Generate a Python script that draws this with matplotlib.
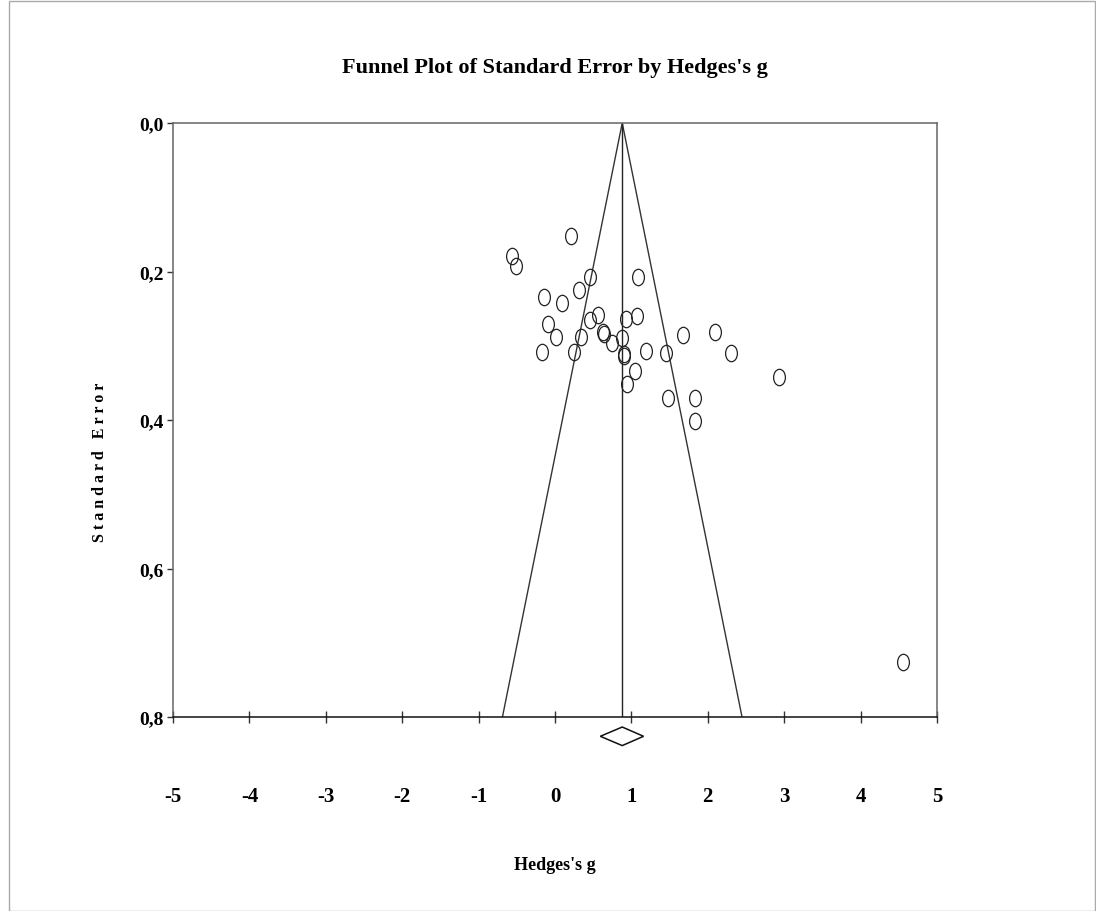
import matplotlib
matplotlib.use("Agg")
import matplotlib.pyplot as plt
import numpy as np
from matplotlib.path import Path
from matplotlib.patches import Polygon, Rectangle
from matplotlib.transforms import Affine2D

# ---- data ----
hedges_g = [0.205, -0.566, -0.514, 0.463, 1.085, 0.314, -0.139, 0.088, 0.567, 0.463,
            0.933, 1.072, -0.095, 0.627, 0.637, 0.009, 0.340, 0.881, 0.750, 1.678,
            2.088, -0.170, 0.244, 0.898, 0.902, 1.186, 1.456, 2.310, 1.046, 2.937,
            0.937, 1.482, 1.830, 1.835, 4.549]
std_err = [0.152, 0.179, 0.192, 0.208, 0.207, 0.225, 0.235, 0.243, 0.259, 0.265,
           0.264, 0.260, 0.271, 0.282, 0.284, 0.288, 0.288, 0.290, 0.296, 0.285,
           0.282, 0.308, 0.309, 0.311, 0.314, 0.307, 0.310, 0.310, 0.334, 0.342,
           0.352, 0.370, 0.370, 0.401, 0.726]
mean_effect = 0.88
ci_low, ci_high = 0.593, 1.159
z_crit = 1.96
x_ticks = [-5, -4, -3, -2, -1, 0, 1, 2, 3, 4, 5]
y_ticks = [0.0, 0.2, 0.4, 0.6, 0.8]
y_tick_labels = ["0,0", "0,2", "0,4", "0,6", "0,8"]
title = "Funnel Plot of Standard Error by Hedges's g"
x_label = "Hedges's g"
y_label = "Standard Error"

W, H = 1096, 912
fig = plt.figure(figsize=(W / 100, H / 100), dpi=100)
fig.patch.set_facecolor("white")
serif = ["Liberation Serif", "DejaVu Serif"]

ax = fig.add_axes([173 / W, 1 - 718 / H, (937 - 173) / W, (718 - 124) / H])
ax.set_xlim(-5, 5)
ax.set_ylim(0.8, 0.0)

# elliptical open marker
ell = Path.unit_circle().transformed(Affine2D().scale(0.72, 1.0))
ax.plot(hedges_g, std_err, linestyle="none", marker=ell, markersize=11.8,
        markerfacecolor="none", markeredgecolor="#222222", markeredgewidth=0.9,
        clip_on=False, zorder=3)

# funnel
se_max = 0.8
ax.plot([mean_effect - z_crit * se_max, mean_effect, mean_effect + z_crit * se_max],
        [se_max, 0.0, se_max], color="#333333", lw=1.0, zorder=2)
ax.plot([mean_effect, mean_effect], [0.0, se_max], color="#222222", lw=1.0, zorder=2)

# summary diamond
dy = 0.0125
ym = 0.826
diamond = Polygon([[ci_low, ym], [mean_effect, ym - dy], [ci_high, ym], [mean_effect, ym + dy]],
                  closed=True, fill=False, edgecolor="#111111", lw=1.1, clip_on=False)
ax.add_patch(diamond)

# spines
for s in ["top", "left", "right"]:
    ax.spines[s].set_color("#666666")
    ax.spines[s].set_linewidth(1.1)
ax.spines["bottom"].set_color("#111111")
ax.spines["bottom"].set_linewidth(1.1)

ax.set_xticks(x_ticks)
ax.set_xticklabels([str(v) for v in x_ticks], fontfamily=serif, fontweight="bold", fontsize=15)
ax.set_yticks(y_ticks)
ax.set_yticklabels(y_tick_labels, fontfamily=serif, fontweight="bold", fontsize=14)
ax.tick_params(axis="x", direction="inout", length=8, width=1.0, color="#333333", pad=46)
ax.tick_params(axis="y", direction="out", length=4, width=1.0, color="#333333", pad=3)

fig.text(555 / W, 1 - 68 / H, title, ha="center", va="center",
         fontfamily=serif, fontweight="bold", fontsize=16)
fig.text(555 / W, 1 - 866 / H, x_label, ha="center", va="center",
         fontfamily=serif, fontweight="bold", fontsize=13)
fig.text(100 / W, 1 - 462 / H, " ".join(y_label), ha="center", va="center", rotation=90,
         fontfamily=serif, fontweight="bold", fontsize=11.5)

# outer frame
fig.add_artist(Rectangle((8.5 / W, 0.5 / H), (W - 9.5) / W, (H - 2) / H, transform=fig.transFigure,
                         fill=False, edgecolor="#aaaaaa", lw=1.0))

fig.savefig("out.png", dpi=100, facecolor="white")
